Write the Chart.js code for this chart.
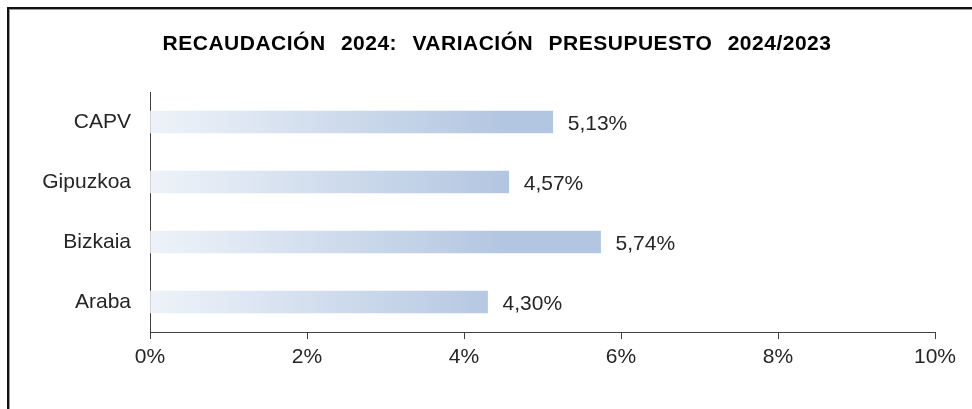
<!DOCTYPE html>
<html>
<head>
<meta charset="utf-8">
<script src="https://cdn.jsdelivr.net/npm/chart.js@4"></script>
<style>
  html, body { margin: 0; padding: 0; background: #fff; }
  #wrap { position: relative; width: 972px; height: 409px; overflow: hidden; }
  #frame { position: absolute; left: 7px; top: 7px; width: 2000px; height: 2000px;
           border-left: 2px solid #111; border-top: 2px solid #111; box-shadow: inset 1px 1px 0 #999; }
  canvas { position: absolute; left: 0; top: 0; }
</style>
</head>
<body>
<div id="wrap">
  <div id="frame"></div>
  <canvas id="myChart" width="972" height="409"></canvas>
</div>
<script>
// Datos del gráfico
const categories = ['CAPV', 'Gipuzkoa', 'Bizkaia', 'Araba'];
const values = [5.13, 4.57, 5.74, 4.30];
const tickValues = [0, 2, 4, 6, 8, 10];
const titleText = 'RECAUDACIÓN 2024: VARIACIÓN PRESUPUESTO 2024/2023';

const fontFamily = '"Liberation Sans", Arial, sans-serif';

// Título dibujado a mano (espaciado más ancho que el del plugin de Chart.js)
const chartTitle = {
    id: 'chartTitle',
    afterDraw(chart) {
        const ctx = chart.ctx;
        ctx.save();
        ctx.font = 'bold 21px ' + fontFamily;
        ctx.fillStyle = '#000';
        ctx.letterSpacing = '0.5px';
        ctx.wordSpacing = '9px';
        ctx.textAlign = 'center';
        ctx.textBaseline = 'middle';
        ctx.fillText(titleText, 497, 44);
        ctx.restore();
    }
};

// Etiquetas de valor al final de cada barra
const valueLabels = {
    id: 'valueLabels',
    afterDatasetsDraw(chart) {
        const ctx = chart.ctx;
        const meta = chart.getDatasetMeta(0);
        ctx.save();
        ctx.font = '21px ' + fontFamily;
        ctx.fillStyle = '#262626';
        ctx.textAlign = 'left';
        ctx.textBaseline = 'middle';
        meta.data.forEach((bar, i) => {
            const txt = values[i].toFixed(2).replace('.', ',') + '%';
            ctx.fillText(txt, bar.x + 15, bar.y + 2);
        });
        ctx.restore();
    }
};

const chartData = {
    labels: categories,
    datasets: [{
        data: values,
        barThickness: 22,
        borderWidth: 0,
        backgroundColor: function (context) {
            const chart = context.chart;
            const area = chart.chartArea;
            if (!area) return '#b4c7e2';
            const xs = chart.scales.x;
            const g = chart.ctx.createLinearGradient(area.left, 0, xs.getPixelForValue(4.5), 0);
            g.addColorStop(0, '#eef3f9');
            g.addColorStop(1, '#b3c6e1');
            return g;
        }
    }]
};

const config = {
    type: 'bar',
    data: chartData,
    options: {
        indexAxis: 'y',
        responsive: false,
        animation: false,
        layout: { padding: { left: 0, right: 37, top: 92, bottom: 30 } },
        plugins: {
            legend: { display: false },
            tooltip: { enabled: false },
            title: { display: false }
        },
        scales: {
            x: {
                min: 0,
                max: 10,
                afterBuildTicks(scale) {
                    scale.ticks = tickValues.map(v => ({ value: v }));
                },
                afterFit(scale) { scale.height = 47; },
                grid: { drawOnChartArea: false, drawTicks: true, tickLength: 7, color: '#404040' },
                border: { color: '#404040', width: 1 },
                ticks: {
                    padding: 6,
                    color: '#262626',
                    font: { family: fontFamily, size: 21 },
                    callback: v => v + '%'
                }
            },
            y: {
                afterFit(scale) { scale.width = 150; },
                grid: { display: false },
                border: { color: '#404040', width: 1 },
                ticks: {
                    padding: 11,
                    color: '#262626',
                    font: { family: fontFamily, size: 21 }
                }
            }
        }
    },
    plugins: [valueLabels, chartTitle]
};

const ctx = document.getElementById('myChart').getContext('2d');
const myChart = new Chart(ctx, config);
</script>
</body>
</html>
